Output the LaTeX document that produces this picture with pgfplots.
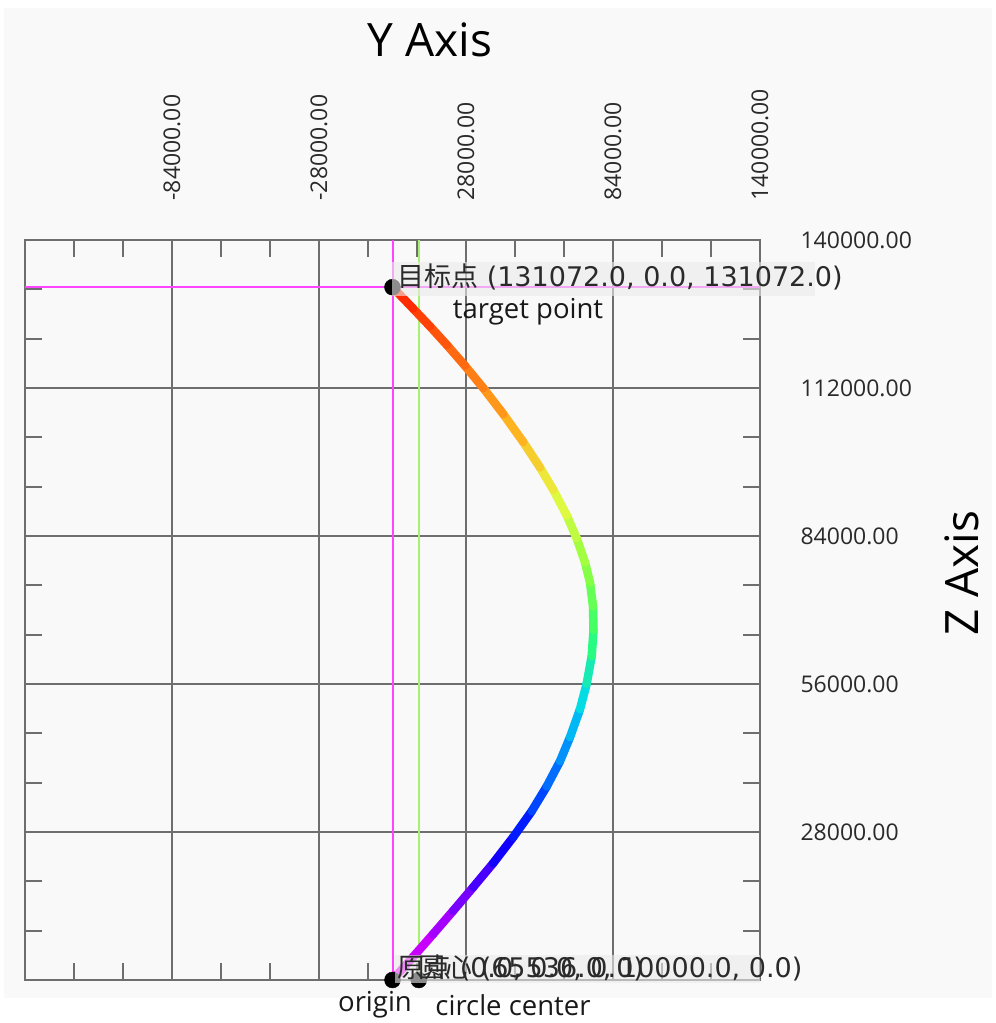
\documentclass[border=0pt]{standalone}
\usepackage{fontspec}
\setmainfont{Open Sans}
\newfontfamily\cjk{Noto Sans CJK SC}
\newfontfamily\djv{DejaVu Sans}
\usepackage{pgfplots}
\pgfplotsset{compat=1.18}
\definecolor{bgc}{HTML}{F9F9F9}
\definecolor{framec}{HTML}{6E6E6E}
\definecolor{magl}{HTML}{FF44FF}
\definecolor{grnl}{HTML}{A8F070}
\definecolor{txtc}{HTML}{2A2A2A}
\pgfplotstableread{
x z
0 0
7810 4351
15428 8665
23048 13054
30667 17519
38286 22060
46019 27054
53028 31935
58743 36608
63809 41395
67619 45935
71428 51233
73980 56057
75885 61260
76571 66217
76380 70681
75238 75222
73333 79006
70171 83565
66361 87917
61257 92741
56190 96960
49828 101765
42209 107063
34590 111982
27619 116201
20762 120117
14286 123655
7810 127041
0 131072
}\curvetable
\begin{document}
\begin{tikzpicture}
\path[use as bounding box] (0,0) rectangle (996pt,1023pt);
\fill[white] (0,0) rectangle (996pt,1023pt);
\fill[bgc] (4pt,25pt) rectangle (992pt,1015pt);
\begin{axis}[
  at={(25pt,43pt)}, anchor=south west,
  scale only axis, width=735pt, height=740pt,
  xmin=-140000, xmax=140000, ymin=0, ymax=140000,
  scaled ticks=false,
  xtick={-140000,-84000,-28000,28000,84000,140000},
  xticklabels={,-84000.00,-28000.00,28000.00,84000.00,140000.00},
  ytick={0,28000,56000,84000,112000,140000},
  yticklabels={,28000.00,56000.00,84000.00,112000.00,140000.00},
  minor x tick num=2, minor y tick num=2,
  xtick pos=both, ytick pos=both,
  xticklabel pos=upper, yticklabel pos=right,
  tick align=inside,
  major tick length=17pt, minor tick length=17pt,
  tick style={line width=2pt, color=framec},
  axis line style={line width=2pt, color=framec},
  grid=major,
  major grid style={line width=2pt, color=framec},
  ticklabel style={font=\fontsize{23}{26}\selectfont, text=txtc},
  xticklabel style={rotate=90, anchor=west},
  yticklabel style={anchor=west},
  xticklabel shift=36pt,
  yticklabel shift=37pt,
  clip=false,
  axis background/.style={fill=bgc},
  colormap={rainbowz}{rgb255=(255,0,255) rgb255=(144,0,255) rgb255=(0,0,255) rgb255=(0,112,255) rgb255=(0,216,240) rgb255=(48,255,112) rgb255=(144,255,64) rgb255=(232,248,64) rgb255=(255,176,32) rgb255=(255,106,16) rgb255=(255,32,0)},
  point meta min=0, point meta max=131072,
]
\addplot[magl, line width=2pt] coordinates {(0,0) (0,140000)};
\addplot[magl, line width=2pt] coordinates {(-140000,131072) (140000,131072)};
\addplot[grnl, line width=2pt] coordinates {(10000,0) (10000,140000)};
\addplot[mesh, line width=8.5pt, line cap=round, line join=round, point meta=y] table[x=x, y=z] {\curvetable};
\addplot[only marks, mark=*, mark size=8pt, black] coordinates {(0,131072) (0,0) (10000,0)};
\end{axis}
% label boxes
\fill[black!8, opacity=0.6] (392pt,727pt) rectangle (815pt,761pt);
\fill[black!8, opacity=0.6] (395pt,40pt) rectangle (760pt,68pt);
\node[anchor=west, inner sep=0pt, text=txtc] at (397pt,746pt) {\djv\fontsize{27}{30}\selectfont{\cjk 目标点} (131072.0, 0.0, 131072.0)};
\node[anchor=west, inner sep=0pt, text=txtc] at (397pt,55pt) {\djv\fontsize{27}{30}\selectfont{\cjk 原点} (0.0, 0.0, 0.0)};
\node[anchor=west, inner sep=0pt, text=txtc] at (418pt,55pt) {\djv\fontsize{27}{30}\selectfont{\cjk 圆心} (65536.0, 10000.0, 0.0)};
\node[inner sep=0pt, text=black!90] at (528pt,711pt) {\fontsize{27.5}{30}\selectfont target point};
\node[inner sep=0pt, text=black!90] at (375pt,18pt) {\fontsize{27.5}{30}\selectfont origin};
\node[inner sep=0pt, text=black!90] at (513pt,18pt) {\fontsize{27.5}{30}\selectfont circle center};
\node[inner sep=0pt, text=black] at (430pt,983pt) {\fontsize{46}{50}\selectfont Y Axis};
\node[inner sep=0pt, text=black, rotate=90] at (961.5pt,449.5pt) {\fontsize{46}{50}\selectfont Z Axis};
\end{tikzpicture}
\end{document}
